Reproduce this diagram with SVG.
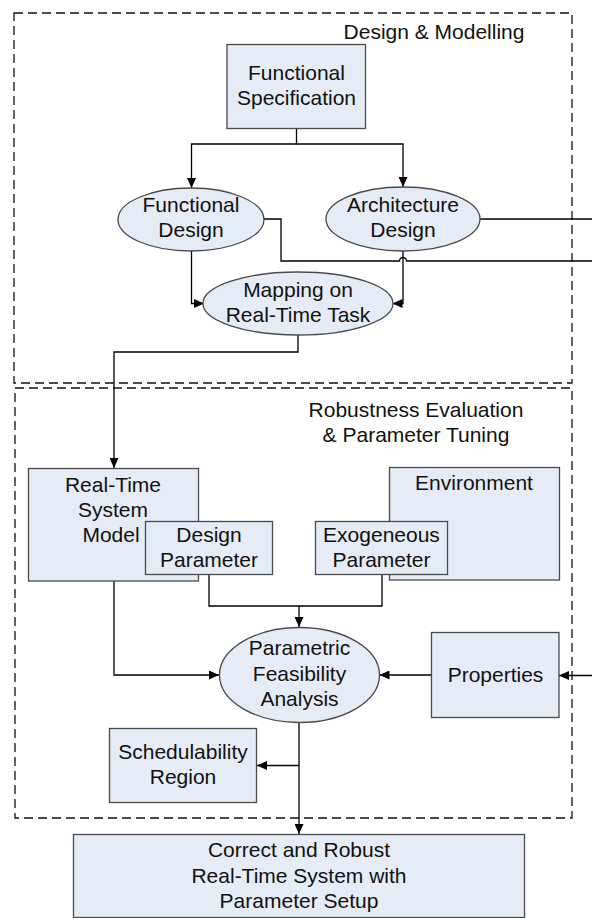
<svg xmlns="http://www.w3.org/2000/svg" width="592" height="918" viewBox="0 0 592 918">
<defs>
<marker id="arr" markerUnits="userSpaceOnUse" markerWidth="11" markerHeight="9" refX="10" refY="4.5" orient="auto">
<path d="M0,0 L10,4.5 L0,9 z" fill="#000"/>
</marker>
<style>
.box{fill:#E6ECF6;stroke:#4a4a4a;stroke-width:1.3}
.dash{fill:none;stroke:#111;stroke-width:1.3;stroke-dasharray:9 5}
.con{fill:none;stroke:#000;stroke-width:1.3}
text{font-family:"Liberation Sans",Arial,sans-serif;font-size:21px;fill:#111;text-anchor:middle}
</style>
</defs>
<rect width="592" height="918" fill="#fff"/>

<g id="region-design">
<rect class="dash" x="14" y="13" width="558" height="370"/>
<text x="434" y="39">Design &amp; Modelling</text>
</g>
<g id="region-robustness">
<rect class="dash" x="15" y="388" width="557" height="430"/>
<text x="416" y="417">Robustness Evaluation</text>
<text x="416" y="442">&amp; Parameter Tuning</text>
</g>

<g id="connectors">
<path class="con" d="M296.5,128 V144 H191.5 V188" marker-end="url(#arr)"/>
<path class="con" d="M296.5,144 H403 V187" marker-end="url(#arr)"/>
<path class="con" d="M191.5,251 V303.5 H204" marker-end="url(#arr)"/>
<path class="con" d="M403,251 V303.5 H392.5" marker-end="url(#arr)"/>
<path class="con" d="M264,219 H281 V261 H399.5 A3.5,3.5 0 0 1 406.5,261 H592"/>
<path class="con" d="M480,219 H592"/>
<path class="con" d="M298,335 V352 H114 V468" marker-end="url(#arr)"/>
<path class="con" d="M114,581 V675 H219" marker-end="url(#arr)"/>
<path class="con" d="M209,574 V606 H382 V574"/>
<path class="con" d="M299,606 V627" marker-end="url(#arr)"/>
<path class="con" d="M431.5,675 H379.5" marker-end="url(#arr)"/>
<path class="con" d="M592,675.5 H559" marker-end="url(#arr)"/>
<path class="con" d="M299,723 V834" marker-end="url(#arr)"/>
<path class="con" d="M299,765.5 H257" marker-end="url(#arr)"/>
</g>

<g id="functional-specification">
<rect class="box" x="227" y="44.5" width="138.5" height="84"/>
<text x="296.5" y="80">Functional</text>
<text x="296.5" y="105">Specification</text>
</g>
<g id="functional-design">
<ellipse class="box" cx="191" cy="219.5" rx="73" ry="31.5"/>
<text x="191" y="212">Functional</text>
<text x="191" y="237">Design</text>
</g>
<g id="architecture-design">
<ellipse class="box" cx="403" cy="219" rx="77" ry="32"/>
<text x="403" y="212">Architecture</text>
<text x="403" y="237">Design</text>
</g>
<g id="mapping">
<ellipse class="box" cx="298" cy="303.5" rx="95" ry="31.5"/>
<text x="298" y="297">Mapping on</text>
<text x="298" y="322">Real-Time Task</text>
</g>
<g id="real-time-system-model">
<rect class="box" x="28.5" y="468.5" width="170" height="112.5"/>
<text x="113" y="492">Real-Time</text>
<text x="113" y="517">System</text>
<text x="111" y="542">Model</text>
</g>
<g id="design-parameter">
<rect class="box" x="145.5" y="521.5" width="127" height="53"/>
<text x="209" y="542">Design</text>
<text x="209" y="567">Parameter</text>
</g>
<g id="environment">
<rect class="box" x="389.5" y="467.5" width="170" height="112.5"/>
<text x="474" y="490">Environment</text>
</g>
<g id="exogeneous-parameter">
<rect class="box" x="315.5" y="521.5" width="132" height="53"/>
<text x="381.5" y="542">Exogeneous</text>
<text x="381.5" y="567">Parameter</text>
</g>
<g id="parametric-feasibility-analysis">
<ellipse class="box" cx="299.5" cy="675" rx="80" ry="47.5"/>
<text x="299.5" y="655">Parametric</text>
<text x="299.5" y="681">Feasibility</text>
<text x="299.5" y="706">Analysis</text>
</g>
<g id="properties">
<rect class="box" x="431.5" y="632.5" width="127.5" height="85"/>
<text x="495.5" y="682">Properties</text>
</g>
<g id="schedulability-region">
<rect class="box" x="109.5" y="728.5" width="147" height="74"/>
<text x="183" y="759">Schedulability</text>
<text x="183" y="784">Region</text>
</g>
<g id="correct-robust-system">
<rect class="box" x="73.5" y="834.5" width="451" height="83"/>
<text x="299" y="857">Correct and Robust</text>
<text x="299" y="883">Real-Time System with</text>
<text x="299" y="908">Parameter Setup</text>
</g>
</svg>
